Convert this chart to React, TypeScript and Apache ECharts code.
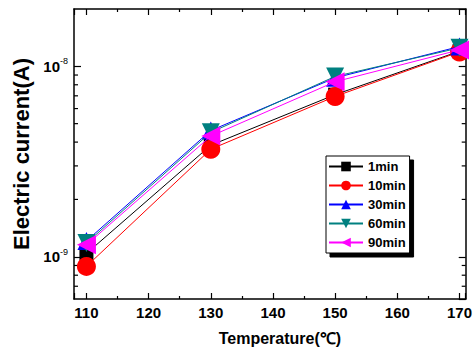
import React, { useEffect, useRef } from "react";
import * as echarts from "echarts";

const temperatures = [110, 130, 150, 170];
const seriesNames = ["1min", "10min", "30min", "60min", "90min"];
const current1min = [1.04e-9, 3.85e-9, 7.1e-9, 1.2e-8];
const current10min = [0.89e-9, 3.67e-9, 6.95e-9, 1.19e-8];
const current30min = [1.21e-9, 4.6e-9, 8.7e-9, 1.27e-8];
const current60min = [1.18e-9, 4.5e-9, 8.85e-9, 1.25e-8];
const current90min = [1.155e-9, 4.3e-9, 8.3e-9, 1.22e-8];
const minorYTicks = [7e-10, 8e-10, 9e-10, 2e-9, 3e-9, 4e-9, 5e-9, 6e-9, 7e-9, 8e-9, 9e-9];

const X_MIN = 108;
const X_MAX = 171;
const Y_MIN = 6e-10;
const Y_MAX = 2e-8;

const colors = ["#000000", "#ff0000", "#0000ff", "#008080", "#ff00ff"];
const symbols = ["rect", "circle", "triangle", "triangle", "triangle"];
const symbolRotates = [0, 0, 0, 180, 90];
const symbolSizes = [14, 19, 18, 18, 19];
const allValues = [current1min, current10min, current30min, current60min, current90min];

export default function App() {
  const ref = useRef<HTMLDivElement>(null);
  useEffect(() => {
    if (!ref.current) return;
    const chart = echarts.init(ref.current, null, { renderer: "svg" });
    const font = "'Liberation Sans', Arial, sans-serif";
    const lineSeries = seriesNames.map((name, i) => ({
      name,
      type: "line",
      data: temperatures.map((t, k) => [t, allValues[i][k]]),
      symbol: symbols[i],
      symbolSize: symbolSizes[i],
      symbolRotate: symbolRotates[i],
      itemStyle: { color: colors[i] },
      lineStyle: { color: colors[i], width: 1 },
      z: 3 + i,
    }));
    const yLabel = (v: number) => {
      const e = Math.log10(v);
      if (Math.abs(e - Math.round(e)) > 0.01) return "";
      return `{a|10}{b|${Math.round(e)}}`;
    };
    const mkY = (pos: string, labels: boolean) => ({
      type: "log",
      logBase: 10,
      position: pos,
      min: Y_MIN,
      max: Y_MAX,
      splitLine: { show: false },
      axisLine: { show: true, lineStyle: { color: "#000", width: 1.5 } },
      axisTick: { show: true, inside: true, length: 7, lineStyle: { color: "#000", width: 1.2 } },
      axisLabel: {
        show: labels,
        showMinLabel: false,
        showMaxLabel: false,
        formatter: yLabel,
        margin: 6,
        rich: {
          a: { fontFamily: font, fontSize: 15, fontWeight: "bold", color: "#000" },
          b: { fontFamily: font, fontSize: 9, color: "#000", padding: [0, 0, 10, 0] },
        },
      },
    });
    const mkX = (pos: string, labels: boolean) => ({
      type: "value",
      position: pos,
      min: X_MIN,
      max: X_MAX,
      splitNumber: 6,
      splitLine: { show: false },
      axisLine: { show: true, onZero: false, lineStyle: { color: "#000", width: 1.5 } },
      axisTick: { show: true, inside: true, length: 6, lineStyle: { color: "#000", width: 1.2 } },
      minorTick: { show: true, splitNumber: 2, length: 3, lineStyle: { color: "#000", width: 1.2 } },
      minorSplitLine: { show: false },
      axisLabel: {
        show: labels,
        showMinLabel: false,
        showMaxLabel: false,
        formatter: (v: number) => (v % 10 === 0 ? String(v) : ""),
        fontFamily: font,
        fontSize: 15,
        fontWeight: "bold",
        color: "#000",
        margin: 6,
      },
    });
    const xAxes: any[] = [mkX("bottom", true), mkX("top", false)];
    xAxes[0].name = "Temperature(\u2103)";
    xAxes[0].nameLocation = "middle";
    xAxes[0].nameGap = 31;
    xAxes[0].nameTextStyle = {
      fontFamily: font,
      fontSize: 16,
      fontWeight: "bold",
      color: "#000",
      padding: [0, 0, 0, 20],
    };
    const yAxes: any[] = [mkY("left", true), mkY("right", false)];
    yAxes[0].name = "Electric current(A)";
    yAxes[0].nameLocation = "middle";
    yAxes[0].nameGap = 35;
    yAxes[0].nameTextStyle = { fontFamily: font, fontSize: 22, fontWeight: "bold", color: "#000" };

    chart.setOption({
      animation: false,
      backgroundColor: "#fff",
      grid: { left: 74, right: 4, top: 9, bottom: 51, containLabel: false },
      xAxis: xAxes,
      yAxis: yAxes,
      legend: {
        data: seriesNames,
        orient: "vertical",
        left: 326,
        top: 156,
        itemWidth: 34,
        itemHeight: 12,
        itemGap: 6,
        padding: [4, 4, 4, 2],
        borderColor: "#000",
        borderWidth: 1,
        borderRadius: 0,
        backgroundColor: "#fff",
        shadowColor: "#000",
        shadowBlur: 0,
        shadowOffsetX: 4,
        shadowOffsetY: 4,
        textStyle: { fontFamily: font, fontSize: 13, fontWeight: "bold", color: "#000" },
      },
      series: [
        ...lineSeries,
        {
          type: "custom",
          name: "minorY",
          silent: true,
          data: minorYTicks.map((v) => [X_MIN, v]),
          renderItem: (params: any, api: any) => {
            const v = api.value(1);
            const l = api.coord([X_MIN, v]);
            const r = api.coord([X_MAX, v]);
            const style = { stroke: "#000", lineWidth: 1.2 };
            return {
              type: "group",
              children: [
                { type: "line", shape: { x1: l[0], y1: l[1], x2: l[0] + 4, y2: l[1] }, style },
                { type: "line", shape: { x1: r[0], y1: r[1], x2: r[0] - 4, y2: r[1] }, style },
              ],
            };
          },
          z: 2,
        },
      ],
    });
    return () => chart.dispose();
  }, []);
  return <div ref={ref} style={{ width: 475, height: 351, position: "absolute", left: 0, top: 0 }} />;
}
